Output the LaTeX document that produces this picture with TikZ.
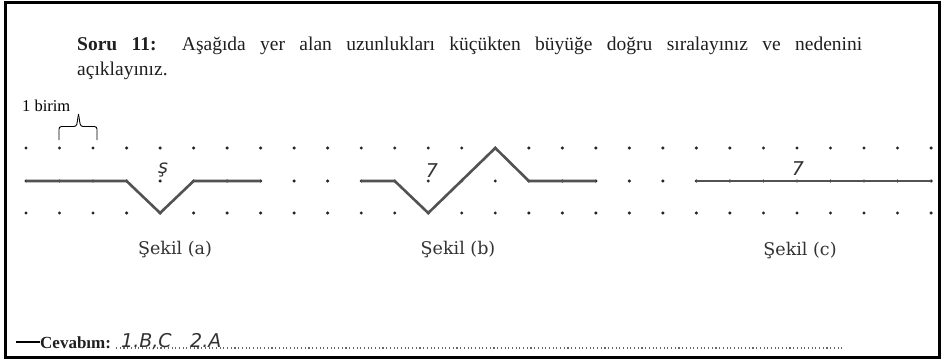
\documentclass[tikz,border=0pt]{standalone}
\usepackage{fontspec}
\setmainfont{Liberation Serif}
\newfontfamily\handfont{DejaVu Sans}
\newfontfamily\capfont{DejaVu Serif}
\begin{document}
\begin{tikzpicture}[x=1pt,y=-1pt,
  figline/.style={line width=2.6pt, color=black!68, line join=miter},
  gdot/.style={fill=black!85},
  qtext/.style={inner sep=0pt, font=\fontsize{19.5}{23}\selectfont, text=black!88},
  caption/.style={inner sep=0pt, font=\capfont\fontsize{17.5}{20}\selectfont, text=black!80},
  hand/.style={inner sep=0pt, font=\handfont\itshape\fontsize{19}{22}\selectfont, text=black!80}]
\useasboundingbox (0,0) rectangle (941,361);
\fill[white] (0,0) rectangle (941,361);
\draw[line width=2.4pt] (5.5,2.5) rectangle (939.5,357.5);
% question
\node[qtext, anchor=base west] (q1) at (77,50)
  {\makebox[785pt][s]{\textbf{Soru 11:} Aşağıda yer alan uzunlukları küçükten büyüğe doğru sıralayınız ve nedenini}};
\node[qtext, anchor=base west] (q2) at (77,75) {açıklayınız.};
% unit
\node[inner sep=0pt, font=\fontsize{16.5}{19}\selectfont, anchor=base west] (unit) at (22,111) {1 birim};
\coordinate (bl) at (59,140);
\coordinate (br) at (97,140);
\coordinate (bt) at (78.5,114);
\draw[line width=0.9pt, rounded corners=2.5pt] (bl) -- (59,126.5) -- (76.5,126.5) -- (bt);
\draw[line width=0.9pt, rounded corners=2.5pt] (br) -- (97,126.5) -- (80.5,126.5) -- (bt);
% dot grid
\foreach \i in {0,...,27} {
  \foreach \j/\yy in {0/148,1/181,2/213} {
    \coordinate (d-\i-\j) at ({26+33.52*\i},\yy);
    \fill[gdot] (d-\i-\j) circle (1.7pt);
  }
}
% figure lines
\draw[figline] (d-0-1) -- (d-3-1) -- (d-4-2) -- (d-5-1) -- (d-7-1);
\draw[figline] (d-10-1) -- (d-11-1) -- (d-12-2) -- (d-14-0) -- (d-15-1) -- (d-17-1);
\draw[figline] (d-20-1) -- (d-27-1);
% handwritten lengths
\node[hand] (la) at (163,170) {ş};
\node[hand] (lb) at (432,171) {7};
\node[hand] (lc) at (798,169) {7};
% captions
\node[caption] (ca) at (175,250) {Şekil (a)};
\node[caption] (cb) at (458,250) {Şekil (b)};
\node[caption] (cc) at (800,251) {Şekil (c)};
% answer line
\coordinate (ds) at (16,342);
\coordinate (de) at (40,342);
\draw[line width=1.4pt] (ds) -- (de);
\node[inner sep=0pt, anchor=base west, font=\bfseries\fontsize{17}{20}\selectfont, text=black!88] (cev) at (40,348.5) {Cevabım:};
\coordinate (dotA) at (116,348);
\coordinate (dotB) at (844,348);
\draw[line width=1.1pt, dash pattern=on 1.1pt off 2.6pt, color=black!60] (dotA) -- (dotB);
\node[hand, anchor=base west] (ans1) at (121,347) {1.B,C};
\node[hand, anchor=base west] (ans2) at (190,347) {2.A};
\end{tikzpicture}
\end{document}
